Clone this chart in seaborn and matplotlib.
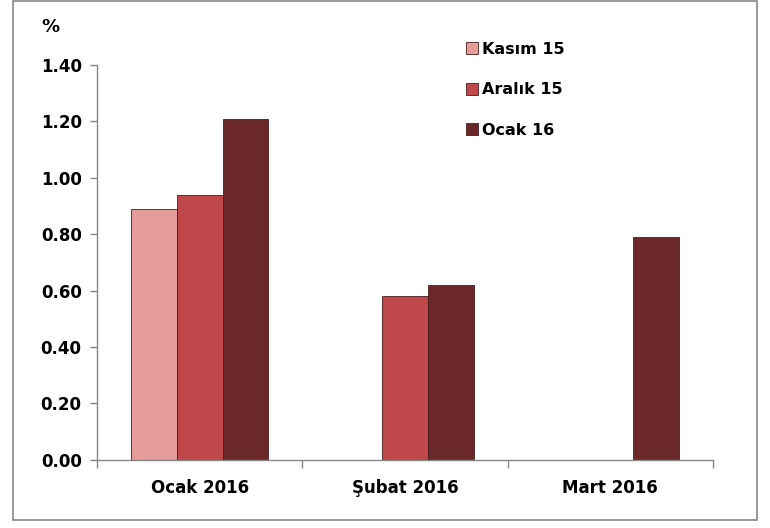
import numpy as np
import pandas as pd
import matplotlib
matplotlib.use("Agg")
import matplotlib.pyplot as plt
import seaborn as sns
from matplotlib.patches import Rectangle
from matplotlib.ticker import FixedLocator

# data
aylar = ["Ocak 2016", "Şubat 2016", "Mart 2016"]
seriler = ["Kasım 15", "Aralık 15", "Ocak 16"]
kasim15 = [0.89, None, None]
aralik15 = [0.94, 0.58, None]
ocak16 = [1.21, 0.62, 0.79]
renkler = ["#E49C9B", "#C0474A", "#6B2828"]

rows = []
for seri, vals in zip(seriler, [kasim15, aralik15, ocak16]):
    for ay, v in zip(aylar, vals):
        if v is not None:
            rows.append({"ay": ay, "seri": seri, "deger": v})
df = pd.DataFrame(rows)

sns.set_style("white", {"text.color": "black", "xtick.color": "black",
                        "ytick.color": "black", "axes.labelcolor": "black"})
plt.rcParams['font.family'] = ['DejaVu Sans']

fig = plt.figure(figsize=(7.7, 5.28), dpi=100)
ax = fig.add_axes([0.126, 0.129, 0.800, 0.748])

sns.barplot(data=df, x="ay", y="deger", hue="seri", order=aylar, hue_order=seriler,
            palette=renkler, saturation=1, width=0.67, gap=0, errorbar=None,
            edgecolor="#4a1c1c", linewidth=0.6, ax=ax)

ax.set_ylim(0, 1.4)
ax.set_xlim(-0.5, 2.5)
ax.set_yticks(np.arange(0, 1.41, 0.2))
ax.set_yticklabels(["%.2f" % t for t in np.arange(0, 1.41, 0.2)])
ax.xaxis.set_minor_locator(FixedLocator([-0.5, 0.5, 1.5, 2.5]))
ax.tick_params(axis="x", which="major", bottom=True, length=0, pad=14, labelsize=12,
               labelcolor="black")
ax.tick_params(axis="x", which="minor", bottom=True, length=6, width=1,
               color="#868686", direction="out")
ax.tick_params(axis="y", left=True, length=5, width=1, color="#868686", direction="out",
               labelsize=12, pad=6, labelcolor="black")
for lab in ax.get_xticklabels() + ax.get_yticklabels():
    lab.set_fontweight("bold")
ax.set_xlabel("")
ax.set_ylabel("")
sns.despine(ax=ax)
for s in ["left", "bottom"]:
    ax.spines[s].set_color("#868686")
    ax.spines[s].set_linewidth(1)

leg = ax.legend(loc="upper left", bbox_to_anchor=(0.575, 1.095), frameon=False,
                handlelength=0.75, handleheight=0.75, handletextpad=0.3,
                labelspacing=1.6, prop={"weight": "bold", "size": 11.5})

fig.text(0.066, 0.948, "%", fontsize=13, fontweight="bold", ha="center", va="center",
         color="black")
fig.patches.append(Rectangle((0.017, 0.015), 0.966, 0.983, transform=fig.transFigure,
                             fill=False, edgecolor="#868686", linewidth=1.2))

fig.savefig("out.png", dpi=100)
